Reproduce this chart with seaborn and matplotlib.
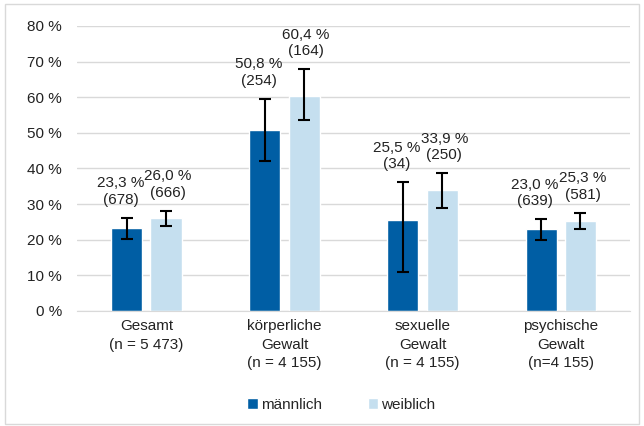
import matplotlib
matplotlib.use("Agg")
import pandas as pd
import seaborn as sns
import matplotlib.pyplot as plt
import matplotlib.ticker as ticker
from matplotlib.patches import Patch, Rectangle
from matplotlib.transforms import offset_copy

categories = ["Gesamt\n(n = 5 473)", "körperliche\nGewalt\n(n = 4 155)",
              "sexuelle\nGewalt\n(n = 4 155)", "psychische\nGewalt\n(n=4 155)"]
groups = ["männlich", "weiblich"]
maennlich = [23.3, 50.8, 25.5, 23.0]
weiblich = [26.0, 60.4, 33.9, 25.3]
n_maennlich = [678, 254, 34, 639]
n_weiblich = [666, 164, 250, 581]
low_maennlich = [20.2, 42.1, 11.0, 19.9]
high_maennlich = [26.2, 59.6, 36.2, 25.8]
low_weiblich = [23.9, 53.6, 28.8, 23.0]
high_weiblich = [28.2, 67.8, 38.7, 27.6]

colors = {"männlich": "#005EA4", "weiblich": "#C5DFEF"}

df = pd.DataFrame({
    "Kategorie": categories * 2,
    "Gruppe": [groups[0]] * 4 + [groups[1]] * 4,
    "Wert": maennlich + weiblich,
})

sns.set_style("white")
plt.rcParams["font.family"] = ["Liberation Sans", "DejaVu Sans"]

fig = plt.figure(figsize=(6.44, 4.26), dpi=100)
ax = fig.add_axes([0.12, 0.27, 0.858, 0.669])

sns.barplot(data=df, x="Kategorie", y="Wert", hue="Gruppe", order=categories,
            hue_order=groups, palette=colors, width=0.57, gap=0.21,
            saturation=1, legend=False, ax=ax)

series = [
    (maennlich, low_maennlich, high_maennlich, n_maennlich, -6),
    (weiblich, low_weiblich, high_weiblich, n_weiblich, 2),
]
for cont, (vals, lo, hi, ns, dx) in zip(ax.containers, series):
    xs = [p.get_x() + p.get_width() / 2 for p in cont.patches]
    yerr = [[v - l for v, l in zip(vals, lo)], [h - v for v, h in zip(vals, hi)]]
    ax.errorbar(xs, vals, yerr=yerr, fmt="none", ecolor="black",
                elinewidth=1.5, capsize=4.3, capthick=1.5, zorder=4)
    tr = offset_copy(ax.transData, fig=fig, x=dx, y=11, units="dots")
    for x, v, h, n in zip(xs, vals, hi, ns):
        ax.text(x, h, f"{v:.1f} %".replace(".", ",") + f"\n({n})",
                ha="center", va="bottom", fontsize=11, color="#222222",
                linespacing=1.2, transform=tr, clip_on=False)

ax.set_ylim(0, 80)
ax.set_xlim(-0.5, 3.5)
ax.set_yticks(range(0, 81, 10))
ax.yaxis.set_major_formatter(ticker.FuncFormatter(lambda v, p: f"{v:.0f} %"))
ax.grid(axis="y", color="#D9D9D9", linewidth=1)
ax.set_axisbelow(True)
ax.set_xlabel("")
ax.set_ylabel("")
for s in ["top", "right", "left"]:
    ax.spines[s].set_visible(False)
ax.spines["bottom"].set_color("#D9D9D9")
ax.tick_params(axis="both", length=0, labelsize=11, colors="#222222")
ax.tick_params(axis="y", pad=11)
ax.tick_params(axis="x", pad=6)
for lab in ax.get_xticklabels():
    lab.set_linespacing(1.4)

handles = [Patch(facecolor=colors[g], label=g) for g in groups]
fig.legend(handles=handles, loc="center", bbox_to_anchor=(0.53, 0.05), ncol=2,
           frameon=False, fontsize=11, handlelength=0.7, handleheight=0.7,
           handletextpad=0.2, columnspacing=3.0)

fig.patches.append(Rectangle((0.008, 0.005), 0.985, 0.985, transform=fig.transFigure,
                             fill=False, edgecolor="#D9D9D9", linewidth=1))

fig.savefig("out.png", dpi=100)
